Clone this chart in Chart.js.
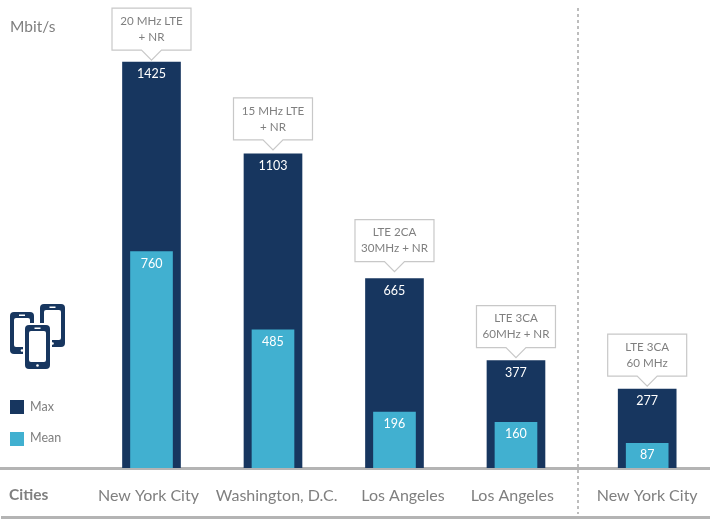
<!DOCTYPE html>
<html>
<head>
<meta charset="utf-8">
<style>
  body { margin: 0; background: #fff; }
  #wrap { width: 710px; height: 523px; }
</style>
<script src="https://cdn.jsdelivr.net/npm/chart.js@4"></script>
</head>
<body>
<div id="wrap"><canvas id="myChart"></canvas></div>
<script>
const cities = ['New York City', 'Washington, D.C.', 'Los Angeles', 'Los Angeles', 'New York City'];
const maxValues = [1425, 1103, 665, 377, 277];
const meanValues = [760, 485, 196, 160, 87];
const notes = [
  ['20 MHz LTE', '+ NR'],
  ['15 MHz LTE', '+ NR'],
  ['LTE 2CA', '30MHz + NR'],
  ['LTE 3CA', '60MHz + NR'],
  ['LTE 3CA', '60 MHz']
];
// last city sits a bit further out, behind the dashed line
const slots = [0, 1, 2, 3, 4.08];
// the city names are not quite centred under their bars
const labelSlots = [-0.025, 1.03, 2.07, 2.97, 4.08];
// space between callout box and bar top
const noteGaps = [12, 14, 17, 13, 13];

const dark = '#17365f';
const light = '#41b0d0';
const grey = '#7f7f7f';
const lineGrey = '#b4b4b4';
const font = 'Lato, "Open Sans", sans-serif';

function phone(ctx, x, y, w, h, halo) {
  if (halo) {
    ctx.fillStyle = '#fff';
    ctx.beginPath();
    ctx.roundRect(x - 2, y - 2, w + 4, h + 4, 5);
    ctx.fill();
  }
  ctx.fillStyle = dark;
  ctx.beginPath();
  ctx.roundRect(x, y, w, h, 4);
  ctx.fill();
  ctx.fillStyle = '#fff';
  ctx.beginPath();
  ctx.roundRect(x + 4, y + 6, w - 8, h - 13, 2);
  ctx.fill();
  ctx.fillRect(x + w / 2 - 3, y + 2.5, 6, 1.5);
  ctx.beginPath();
  ctx.arc(x + w / 2, y + h - 3.5, 1.3, 0, Math.PI * 2);
  ctx.fill();
}

let extras = {
  id: 'extras',
  afterDatasetsDraw(chart) {
    const ctx = chart.ctx;
    const xs = chart.scales.x;
    const ys = chart.scales.y;
    ctx.save();

    // values inside the bars
    ctx.fillStyle = '#fff';
    ctx.font = '12.5px ' + font;
    ctx.textAlign = 'center';
    ctx.textBaseline = 'middle';
    slots.forEach((s, i) => {
      ctx.fillText(maxValues[i], xs.getPixelForValue(s), ys.getPixelForValue(maxValues[i]) + 12);
      ctx.fillText(meanValues[i], xs.getPixelForValue(s), ys.getPixelForValue(meanValues[i]) + 12);
    });

    // callouts above the bars
    slots.forEach((s, i) => {
      const cx = xs.getPixelForValue(s);
      const top = ys.getPixelForValue(maxValues[i]);
      const b = top - noteGaps[i];
      const l = cx - 39.5;
      const r = cx + 39.5;
      ctx.beginPath();
      ctx.moveTo(l, b - 42);
      ctx.lineTo(r, b - 42);
      ctx.lineTo(r, b);
      ctx.lineTo(cx + 10, b);
      ctx.lineTo(cx, b + 10);
      ctx.lineTo(cx - 10, b);
      ctx.lineTo(l, b);
      ctx.closePath();
      ctx.fillStyle = '#fff';
      ctx.fill();
      ctx.strokeStyle = '#c8c8c8';
      ctx.lineWidth = 1.2;
      ctx.stroke();
      ctx.fillStyle = grey;
      ctx.font = '11.6px ' + font;
      ctx.fillText(notes[i][0], cx, b - 29);
      ctx.fillText(notes[i][1], cx, b - 13);
    });

    // dashed divider and bottom rule
    ctx.strokeStyle = '#a8a8a8';
    ctx.lineWidth = 1.5;
    ctx.setLineDash([3, 3]);
    ctx.beginPath();
    ctx.moveTo(578, 8);
    ctx.lineTo(578, 514);
    ctx.stroke();
    ctx.setLineDash([]);
    ctx.fillStyle = lineGrey;
    ctx.fillRect(1, 516, 709, 3);

    // unit and axis name
    ctx.textAlign = 'left';
    ctx.fillStyle = grey;
    ctx.font = '15.5px ' + font;
    ctx.fillText('Mbit/s', 10, 27);
    ctx.font = 'bold 15.5px ' + font;
    ctx.fillText('Cities', 9, 495);

    // phones
    phone(ctx, 10, 312, 24, 42, false);
    phone(ctx, 40, 304, 25, 43, false);
    phone(ctx, 25, 325, 25, 44, true);

    // legend
    ctx.font = '12.5px ' + font;
    ctx.fillStyle = dark;
    ctx.fillRect(10, 400, 14, 14);
    ctx.fillStyle = light;
    ctx.fillRect(10, 432, 14, 14);
    ctx.fillStyle = grey;
    ctx.fillText('Max', 30, 407);
    ctx.fillText('Mean', 30, 438);
    ctx.restore();
  }
};

new Chart(document.getElementById('myChart'), {
  type: 'bar',
  data: {
    datasets: [
      {
        label: 'Max',
        data: slots.map((s, i) => ({ x: s, y: maxValues[i] })),
        backgroundColor: dark,
        barThickness: 58,
        order: 2
      },
      {
        label: 'Mean',
        data: slots.map((s, i) => ({ x: s, y: meanValues[i] })),
        backgroundColor: light,
        barThickness: 42,
        order: 1
      }
    ]
  },
  plugins: [extras],
  options: {
    responsive: true,
    maintainAspectRatio: false,
    animation: false,
    layout: { padding: 0 },
    plugins: {
      legend: { display: false },
      tooltip: { enabled: false }
    },
    scales: {
      x: {
        type: 'linear',
        offset: false,
        min: -1.247,
        max: 4.597,
        grid: { display: false },
        border: { color: lineGrey, width: 3 },
        afterBuildTicks: (scale) => { scale.ticks = labelSlots.map(v => ({ value: v })); },
        afterFit: (scale) => { scale.height = 55; },
        ticks: {
          autoSkip: false,
          maxRotation: 0,
          padding: 10,
          color: grey,
          font: { family: font, size: 16 },
          callback: (v, i) => cities[i]
        }
      },
      y: {
        display: false,
        beginAtZero: true,
        min: 0,
        max: 1643
      }
    },
    datasets: { bar: { grouped: false } }
  }
});
</script>
</body>
</html>
